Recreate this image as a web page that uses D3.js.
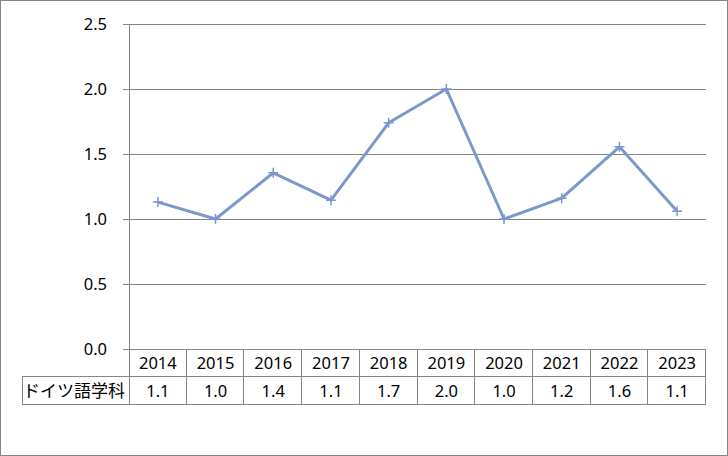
<!DOCTYPE html>
<html><head><meta charset="utf-8">
<script src="https://cdn.jsdelivr.net/npm/d3@7"></script>
<style>html,body{margin:0;padding:0;background:#fff;}svg{display:block;}</style>
</head><body>
<svg id="c" width="728" height="456"></svg>
<script>
const years = ["2014","2015","2016","2017","2018","2019","2020","2021","2022","2023"];
const seriesName = "ドイツ語学科";
const values = [1.13, 1.0, 1.355, 1.145, 1.74, 2.0, 1.0, 1.16, 1.555, 1.06];
const yTicks = [0, 0.5, 1.0, 1.5, 2.0, 2.5];

(function(){
const svg = d3.select("#c");
const W = 728, H = 456;
const pLeft = 129, pRight = 706, pTop = 24, pBottom = 349;
const row1 = 376, row2 = 404, labelLeft = 22;
const grid = "#868686";
const font = "'Noto Sans', 'Open Sans', sans-serif";
const fs = 16.5;

svg.append("rect").attr("x",0.5).attr("y",0.5).attr("width",W-1).attr("height",H-1)
  .attr("fill","#fff").attr("stroke","#868686").attr("stroke-width",1);

const x = d3.scaleBand().domain(years).range([pLeft, pRight]);
const y = d3.scaleLinear().domain([0, 2.5]).range([pBottom, pTop]);

// gridlines
svg.append("g").selectAll("line").data(yTicks).join("line")
  .attr("x1", pLeft-6).attr("x2", pRight)
  .attr("y1", d => Math.round(y(d))+0.5).attr("y2", d => Math.round(y(d))+0.5)
  .attr("stroke", grid).attr("stroke-width",1);

// y axis line
svg.append("line").attr("x1",pLeft+0.5).attr("x2",pLeft+0.5).attr("y1",pTop).attr("y2",row2)
  .attr("stroke",grid);

// y labels
svg.append("g").selectAll("text").data(yTicks).join("text")
  .attr("x", 107).attr("y", d => y(d)).attr("dy","0.36em")
  .attr("text-anchor","end").attr("font-family",font).attr("font-size",fs).attr("fill","#000")
  .text(d3.format(".1f"));

// table
const tg = svg.append("g");
tg.append("line").attr("x1",labelLeft).attr("x2",pRight).attr("y1",row1+0.5).attr("y2",row1+0.5).attr("stroke",grid);
tg.append("line").attr("x1",labelLeft).attr("x2",pRight).attr("y1",row2+0.5).attr("y2",row2+0.5).attr("stroke",grid);
tg.append("line").attr("x1",labelLeft+0.5).attr("x2",labelLeft+0.5).attr("y1",row1).attr("y2",row2).attr("stroke",grid);
const bounds = years.map(d => x(d)+x.bandwidth());
tg.selectAll("line.v").data(bounds).join("line").attr("class","v")
  .attr("x1", d => Math.round(d)-0.5).attr("x2", d => Math.round(d)-0.5)
  .attr("y1", pBottom).attr("y2", row2).attr("stroke", grid);

tg.selectAll("text.yr").data(years).join("text").attr("class","yr")
  .attr("x", d => x(d)+x.bandwidth()/2).attr("y",(pBottom+row1)/2+1).attr("dy","0.36em")
  .attr("text-anchor","middle").attr("font-family",font).attr("font-size",fs).text(d=>d);
tg.selectAll("text.val").data(values).join("text").attr("class","val")
  .attr("x", (d,i) => x(years[i])+x.bandwidth()/2).attr("y",(row1+row2)/2+1).attr("dy","0.36em")
  .attr("text-anchor","middle").attr("font-family",font).attr("font-size",fs).text(d3.format(".1f"));
tg.append("text").attr("x",labelLeft+1).attr("y",(row1+row2)/2+1).attr("dy","0.36em")
  .attr("font-family","'Noto Sans CJK JP', sans-serif").attr("font-size",17).text(seriesName);

// line
const color = "#7c97c9";
const line = d3.line().x((d,i)=>x(years[i])+x.bandwidth()/2).y(d=>y(d));
svg.append("path").datum(values).attr("d",line).attr("fill","none")
  .attr("stroke",color).attr("stroke-width",3).attr("stroke-linejoin","round");
svg.append("g").selectAll("path").data(values).join("path")
  .attr("transform",(d,i)=>`translate(${x(years[i])+x.bandwidth()/2},${y(d)})`)
  .attr("d","M-5,0H5M0,-5V5").attr("stroke",color).attr("stroke-width",1.5).attr("fill","none");
})();
</script>
</body></html>
